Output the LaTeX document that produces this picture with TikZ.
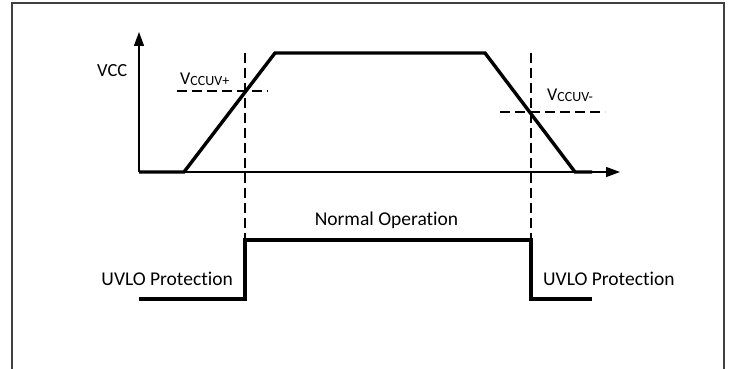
\documentclass[tikz,border=0pt]{standalone}
\usepackage{fontspec}
\setmainfont{Carlito}[Ligatures=NoCommon]
\usetikzlibrary{arrows.meta}
\begin{document}
\begin{tikzpicture}[x=1pt,y=-1pt,
  frame/.style={line width=1.4pt, draw=black!75},
  axis/.style={line width=1.3pt, -{Triangle[length=14pt,width=10pt]}},
  wave/.style={line width=3.4pt, line join=miter},
  guide/.style={line width=1.2pt, dash pattern=on 10pt off 5pt},
  lbl/.style={font=\fontsize{19.5}{20}\selectfont, inner sep=0pt},
  vlbl/.style={font=\fontsize{18.5}{19}\selectfont, inner sep=0pt},
]
\useasboundingbox (0,0) rectangle (730,369);
% frame (open at the bottom)
\draw[frame] (12,369) -- (12,3) -- (724,3) -- (724,369);

% named points
\coordinate (O) at (139,172);
\coordinate (Ytip) at (139,32);
\coordinate (Xtip) at (620,172);
\coordinate (r0) at (184,172);
\coordinate (r1) at (275,53);
\coordinate (f0) at (485,53);
\coordinate (f1) at (575,172);
\coordinate (e0) at (592,172);
\coordinate (ta) at (245,53);
\coordinate (tab) at (245,240);
\coordinate (tb) at (531,53);
\coordinate (tbb) at (531,240);
\coordinate (hpl) at (177,91);
\coordinate (hpr) at (268,91);
\coordinate (hml) at (500,112);
\coordinate (hmr) at (605,112);
\coordinate (s0) at (139,299);
\coordinate (s1) at (245,299);
\coordinate (s4) at (531,299);
\coordinate (s5) at (592,299);

% axes
\draw[axis] (O) -- (Ytip);
\draw[axis] (O) -- (Xtip);

% guides
\draw[guide] (ta) -- (tab);
\draw[guide] (tb) -- (tbb);
\draw[guide] (hpl) -- (hpr);
\draw[guide] (hml) -- (hmr);

% VCC waveform
\draw[wave] (O) -- (r0) -- (r1) -- (f0) -- (f1) -- (e0);

% state waveform
\draw[wave] (s0) -- (s1) -- (tab) -- (tbb) -- (s4) -- (s5);

% labels
\node[vlbl, anchor=base west] (vcc) at (97,76) {VCC};
\node[inner sep=0pt, anchor=base west] (vup) at (180,84)
  {{\fontsize{18}{18}\selectfont V}{\fontsize{14}{14}\selectfont\raisebox{-1.5pt}{CCUV+}}};
\node[inner sep=0pt, anchor=base west] (vdn) at (547,100)
  {{\fontsize{18}{18}\selectfont V}{\fontsize{14}{14}\selectfont\raisebox{-1.5pt}{CCUV-}}};
\node[lbl, anchor=base] (norm) at (386.5,225) {Normal Operation};
\node[lbl, anchor=base east] (uvl) at (233,285) {UVLO Protection};
\node[lbl, anchor=base west] (uvr) at (543,285) {UVLO Protection};
\end{tikzpicture}
\end{document}
